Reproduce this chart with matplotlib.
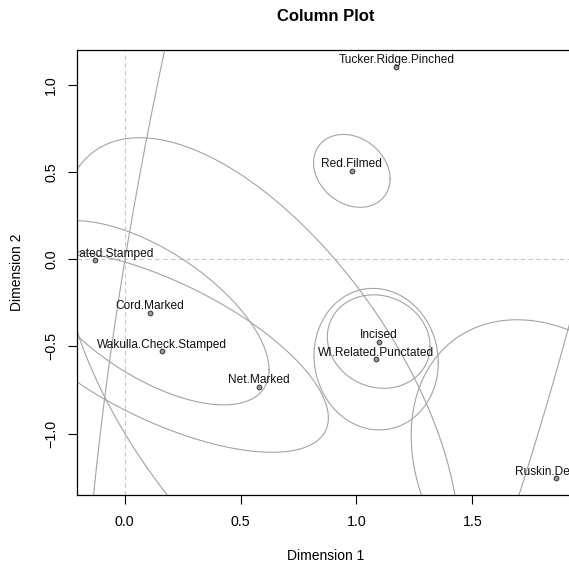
import numpy as np
import matplotlib
matplotlib.use("Agg")
import matplotlib.pyplot as plt

plt.rcParams['font.family'] = ['Liberation Sans', 'DejaVu Sans']

# Column coordinates from the CA
labels = ['Complicated.Stamped', 'Cord.Marked', 'Wakulla.Check.Stamped', 'Net.Marked',
          'Red.Filmed', 'Tucker.Ridge.Pinched', 'Incised', 'WI.Related.Punctated',
          'Ruskin.Dentate']
dim1 = [-0.127, 0.108, 0.163, 0.581, 0.980, 1.172, 1.096, 1.085, 1.861]
dim2 = [-0.006, -0.307, -0.527, -0.733, 0.507, 1.105, -0.472, -0.573, -1.257]

# confidence ellipses: spread along each dimension and correlation (None = not drawn)
ell_sd1 = [None, 0.515, 0.716, 0.86, 0.165, 1.363, 0.2215, 0.268, 0.625]
ell_sd2 = [None, 0.528, 0.58, 1.43, 0.209, 5.76, 0.268, 0.406, 0.91]
ell_rho = [None, -0.62, -0.66, -0.60, -0.22, 0.668, -0.10, -0.05, -0.27]

x_ticks = [0.0, 0.5, 1.0, 1.5]
y_ticks = [-1.0, -0.5, 0.0, 0.5, 1.0]

fig = plt.figure(figsize=(5.69, 5.71), dpi=100)
ax = fig.add_axes([0.1348, 0.1331, 0.8747, 0.7793])

ax.axhline(0, color='#c8c8c8', lw=0.8, dashes=(4, 3), zorder=1)
ax.axvline(0, color='#c8c8c8', lw=0.8, dashes=(4, 3), zorder=1)

t = np.linspace(0, 2 * np.pi, 400)
for cx, cy, s1, s2, r in zip(dim1, dim2, ell_sd1, ell_sd2, ell_rho):
    if s1 is None:
        continue
    ex = cx + s1 * np.cos(t)
    ey = cy + s2 * (r * np.cos(t) + np.sqrt(1 - r ** 2) * np.sin(t))
    ax.plot(ex, ey, color='#a3a3a3', lw=0.8, zorder=2)

ax.plot(dim1, dim2, 'o', ms=3.4, mfc='#9a9a9a', mec='#333333', mew=0.7, zorder=3)
for lab, x, y in zip(labels, dim1, dim2):
    ax.annotate(lab, (x, y), xytext=(0, 2.6), textcoords='offset points',
                ha='center', va='baseline', fontsize=8.6, color='#111111',
                annotation_clip=False, clip_on=True)

ax.set_xlim(-0.2065, 1.94)
ax.set_ylim(-1.352, 1.2)
ax.set_xticks(x_ticks)
ax.set_yticks(y_ticks)
ax.set_xticklabels([f'{v:.1f}' for v in x_ticks])
ax.set_yticklabels([f'{v:.1f}'.replace('-', '\u2212') for v in y_ticks],
                   rotation=90, va='center')
ax.tick_params(direction='out', length=6.2, width=0.8, labelsize=10.3)
ax.tick_params(axis='x', pad=8.5)
ax.tick_params(axis='y', pad=7)
for s in ax.spines.values():
    s.set_linewidth(0.9)

ax.set_title('Column Plot', fontsize=12, fontweight='bold', pad=21)
ax.set_xlabel('Dimension 1', fontsize=10)
ax.set_ylabel('Dimension 2', fontsize=10)
ax.xaxis.set_label_coords(0.5, -0.122)
ax.yaxis.set_label_coords(-0.105, 0.5)

fig.savefig('out.png', dpi=100)
